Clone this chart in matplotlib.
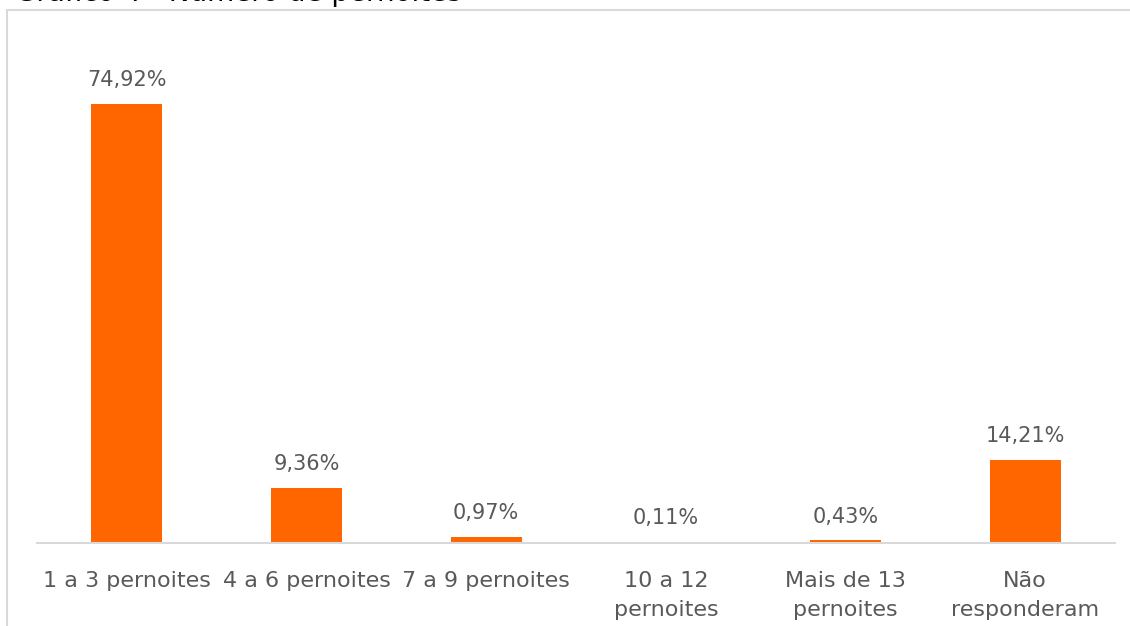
import matplotlib
matplotlib.use("Agg")
import matplotlib.pyplot as plt
from matplotlib.patches import Rectangle

categorias = ["1 a 3 pernoites", "4 a 6 pernoites", "7 a 9 pernoites",
              "10 a 12\npernoites", "Mais de 13\npernoites", "Não\nresponderam"]
valores = [74.92, 9.36, 0.97, 0.11, 0.43, 14.21]
rotulos = ["74,92%", "9,36%", "0,97%", "0,11%", "0,43%", "14,21%"]

laranja = "#ff6600"
cinza_txt = "#595959"
cinza_linha = "#d9d9d9"

plt.rcParams["font.family"] = ["DejaVu Sans"]

fig = plt.figure(figsize=(11.3, 6.26), dpi=100)
fig.patch.set_facecolor("white")

# moldura (parcialmente cortada como no original)
fig.patches.append(Rectangle((7 / 1130, -0.2), 2, 616 / 626 + 0.2, fill=False,
                             edgecolor=cinza_linha, lw=1.5,
                             transform=fig.transFigure, figure=fig))

# titulo cortado no topo, como na imagem original
fig.text(15 / 1130, 1 - 1.0 / 626, "Gráfico 4 - Número de pernoites",
         fontsize=20, color="black", va="baseline", ha="left")

ax = fig.add_axes([37 / 1130, 83 / 626, 1078 / 1130, 80 * 5.86 / 626])
x = range(len(categorias))
barras = ax.bar(x, valores, width=0.395, color=laranja)
ax.set_ylim(0, 80)
ax.set_xlim(-0.5, len(categorias) - 0.5)

for b, r in zip(barras, rotulos):
    ax.annotate(r, (b.get_x() + b.get_width() / 2, b.get_height()),
                xytext=(0, 10), textcoords="offset points",
                ha="center", va="bottom", fontsize=15, color=cinza_txt)

ax.set_xticks(list(x))
ax.set_xticklabels(categorias, fontsize=16, color=cinza_txt, linespacing=1.55)
ax.tick_params(axis="x", length=0, pad=20)
ax.set_yticks([])
for s in ["top", "right", "left"]:
    ax.spines[s].set_visible(False)
ax.spines["bottom"].set_color(cinza_linha)
ax.spines["bottom"].set_linewidth(1.5)
ax.set_facecolor("none")

fig.savefig("out.png", dpi=100)
